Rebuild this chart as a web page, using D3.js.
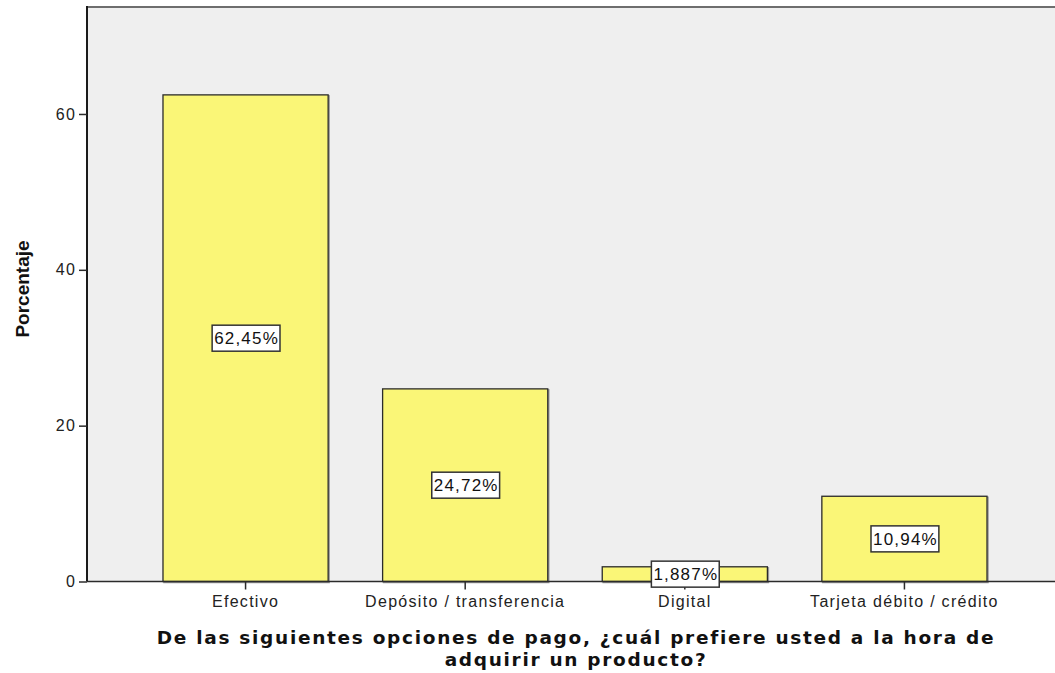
<!DOCTYPE html>
<html>
<head>
<meta charset="utf-8">
<script src="https://cdn.jsdelivr.net/npm/d3@7"></script>
<style>
  html, body { margin: 0; padding: 0; background: #ffffff; }
  svg { display: block; }
</style>
</head>
<body>
<svg id="chart" width="1055" height="673"></svg>
<script>
// Payment preference survey: percentage per option
const categories = ["Efectivo", "Depósito / transferencia", "Digital", "Tarjeta débito / crédito"];
const percentages = [62.45, 24.72, 1.887, 10.94];
const valueLabels = ["62,45%", "24,72%", "1,887%", "10,94%"];
const yTicks = [0, 20, 40, 60];
const xTitleLines = [
  "De las siguientes opciones de pago, ¿cuál prefiere usted a la hora de",
  "adquirir un producto?"
];

const W = 1055, H = 673;
const plot = { left: 87, top: 8, bottom: 581.5, right: 1063 };
const sans = "Liberation Sans, Arial, sans-serif";

const svg = d3.select("#chart");

const x = d3.scaleBand()
  .domain(categories)
  .range([plot.left, plot.right])
  .paddingInner(0.248)
  .paddingOuter(0.346);

const y = d3.scaleLinear()
  .domain([0, 73.6])
  .range([plot.bottom, plot.top]);

// Plot background
svg.append("rect")
  .attr("x", plot.left).attr("y", plot.top)
  .attr("width", W - plot.left).attr("height", plot.bottom - plot.top)
  .attr("fill", "#efefef");

// Top frame line
svg.append("line")
  .attr("x1", plot.left).attr("x2", W)
  .attr("y1", plot.top - 1).attr("y2", plot.top - 1)
  .attr("stroke", "#6e6e6e").attr("stroke-width", 2);

// Bars with a soft grey edge
const bars = svg.append("g");
categories.forEach((c, i) => {
  bars.append("rect")
    .attr("x", x(c) + 1).attr("y", y(percentages[i]) + 1)
    .attr("width", x.bandwidth()).attr("height", y(0) - y(percentages[i]))
    .attr("fill", "none").attr("stroke", "#9a9a9a").attr("stroke-width", 1.5);
  bars.append("rect")
    .attr("x", x(c)).attr("y", y(percentages[i]))
    .attr("width", x.bandwidth()).attr("height", y(0) - y(percentages[i]))
    .attr("fill", "#faf677").attr("stroke", "#2b2b2b").attr("stroke-width", 1.3);
});

// Y axis
const yAxis = d3.axisLeft(y).tickValues(yTicks).tickSize(8).tickPadding(3);
const gy = svg.append("g").attr("transform", `translate(${plot.left},0)`).call(yAxis);
gy.select(".domain").attr("stroke", "#1a1a1a").attr("stroke-width", 2)
  .attr("d", `M0,${plot.top - 2}V${plot.bottom}`);
gy.selectAll(".tick line").attr("stroke", "#2b2b2b").attr("stroke-width", 1.5);
gy.selectAll(".tick text")
  .attr("font-family", sans).attr("font-size", 16)
  .attr("letter-spacing", 1.2).attr("fill", "#222");

// X axis
const xAxis = d3.axisBottom(x).tickSize(8).tickPadding(6);
const gx = svg.append("g").attr("transform", `translate(0,${plot.bottom})`).call(xAxis);
gx.select(".domain").attr("stroke", "#2b2b2b").attr("stroke-width", 1.5)
  .attr("d", `M${plot.left},0H${W}`);
gx.selectAll(".tick line").attr("stroke", "#2b2b2b").attr("stroke-width", 1.5);
gx.selectAll(".tick text")
  .attr("font-family", sans).attr("font-size", 16)
  .attr("letter-spacing", 1.3).attr("fill", "#222");

// Value labels in boxes
const labels = svg.append("g");
categories.forEach((c, i) => {
  const cx = x(c) + x.bandwidth() / 2;
  const cy = y(percentages[i] / 2);
  const t = labels.append("text")
    .attr("x", cx + 1).attr("y", cy + 6)
    .attr("text-anchor", "middle")
    .attr("font-family", sans).attr("font-size", 17)
    .attr("letter-spacing", 1.2).attr("fill", "#111")
    .text(valueLabels[i]);
  const bb = t.node().getBBox();
  labels.insert("rect", "text")
    .attr("x", bb.x - 2).attr("y", cy - 13)
    .attr("width", bb.width + 3).attr("height", 26)
    .attr("fill", "#ffffff").attr("stroke", "#333").attr("stroke-width", 1.5);
});

// Axis titles
svg.append("text")
  .attr("transform", `translate(29,289) rotate(-90)`)
  .attr("text-anchor", "middle")
  .attr("font-family", sans)
  .attr("font-weight", "bold").attr("font-size", 19).attr("fill", "#111")
  .text("Porcentaje");

const xt = svg.append("text")
  .attr("text-anchor", "middle")
  .attr("font-family", "DejaVu Sans, Verdana, sans-serif")
  .attr("font-weight", "bold").attr("font-size", 18.5)
  .attr("letter-spacing", 1.7).attr("fill", "#111");
xTitleLines.forEach((line, i) => {
  xt.append("tspan").attr("x", 576).attr("y", 644 + i * 21.5).text(line);
});
</script>
</body>
</html>
